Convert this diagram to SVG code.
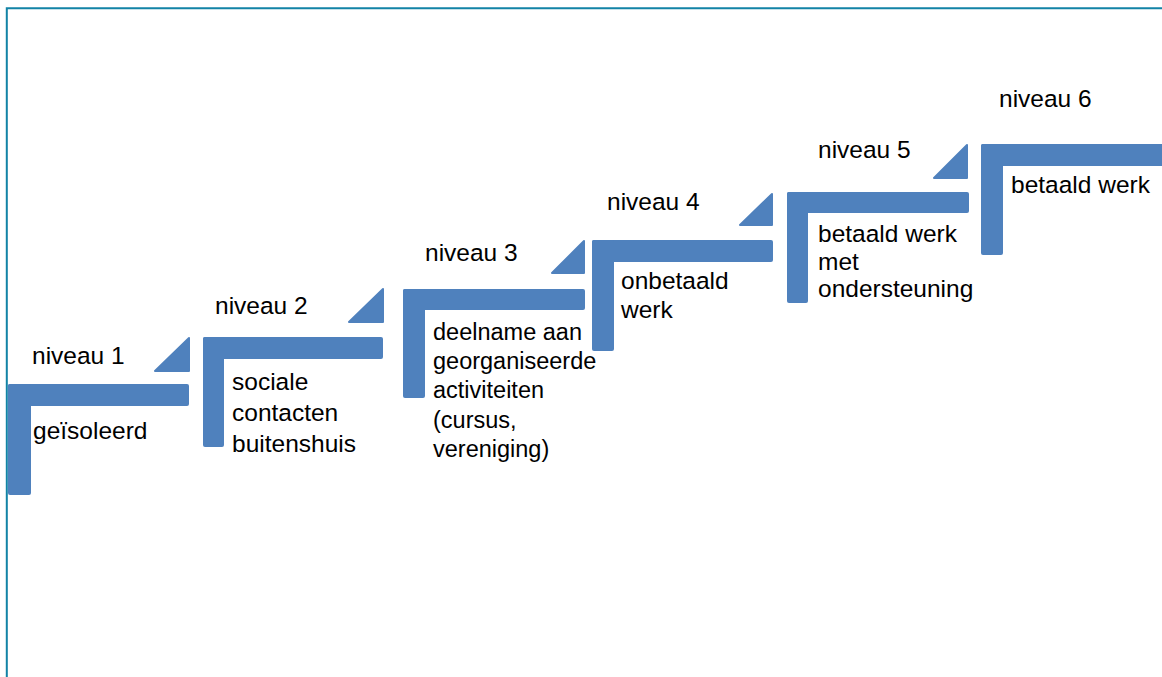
<svg xmlns="http://www.w3.org/2000/svg" width="1162" height="677" viewBox="0 0 1162 677">
<style>
.bar{fill:#4f81bd}
.tri{fill:#4f81bd;stroke:#4f81bd;stroke-width:2;stroke-linejoin:round}
.t{font-family:"Liberation Sans",Arial,sans-serif;font-size:24.5px;fill:#000}
.s{font-size:23.5px}
.frame{fill:none;stroke:#1283a6;stroke-width:2}
</style>
<rect x="0" y="0" width="1162" height="677" fill="#fff"/>
<path class="frame" d="M6.8,677 V8.2 H1162"/>
<g id="connectors"></g>
<g id="step1">
<rect class="bar" x="8" y="384" width="181" height="22" rx="2"/>
<rect class="bar" x="8" y="384" width="23" height="111" rx="2"/>
<polygon class="tri" points="189,338 189,371 155,371"/>
<text class="t" x="32" y="364">niveau 1</text>
<text class="t" x="33" y="439">geïsoleerd</text>
</g>
<g id="step2">
<rect class="bar" x="203" y="337" width="180" height="22" rx="2"/>
<rect class="bar" x="203" y="337" width="21" height="110" rx="2"/>
<polygon class="tri" points="383,289 383,322 349,322"/>
<text class="t" x="215" y="314">niveau 2</text>
<text class="t" x="232" y="390">sociale</text>
<text class="t" x="232" y="421">contacten</text>
<text class="t" x="232" y="452">buitenshuis</text>
</g>
<g id="step3">
<rect class="bar" x="403" y="289" width="182" height="21" rx="2"/>
<rect class="bar" x="403" y="289" width="22" height="109" rx="2"/>
<polygon class="tri" points="584,241 584,273 552,273"/>
<text class="t" x="425" y="261">niveau 3</text>
<text class="t s" x="433" y="340">deelname aan</text>
<text class="t s" x="433" y="369">georganiseerde</text>
<text class="t s" x="433" y="398">activiteiten</text>
<text class="t s" x="433" y="428">(cursus,</text>
<text class="t s" x="433" y="457">vereniging)</text>
</g>
<g id="step4">
<rect class="bar" x="592" y="240" width="181" height="22" rx="2"/>
<rect class="bar" x="592" y="240" width="22" height="111" rx="2"/>
<polygon class="tri" points="772,194 772,225 740,225"/>
<text class="t" x="607" y="210">niveau 4</text>
<text class="t" x="621" y="289">onbetaald</text>
<text class="t" x="621" y="318">werk</text>
</g>
<g id="step5">
<rect class="bar" x="787" y="192" width="182" height="21" rx="2"/>
<rect class="bar" x="787" y="192" width="21" height="111" rx="2"/>
<polygon class="tri" points="967,145 967,178 934,178"/>
<text class="t" x="818" y="158">niveau 5</text>
<text class="t" x="818" y="242">betaald werk</text>
<text class="t" x="818" y="270">met</text>
<text class="t" x="818" y="297">ondersteuning</text>
</g>
<g id="step6">
<rect class="bar" x="981" y="144" width="185" height="22" rx="2"/>
<rect class="bar" x="981" y="144" width="22" height="111" rx="2"/>
<text class="t" x="999" y="107">niveau 6</text>
<text class="t" x="1011" y="193">betaald werk</text>
</g>
</svg>
